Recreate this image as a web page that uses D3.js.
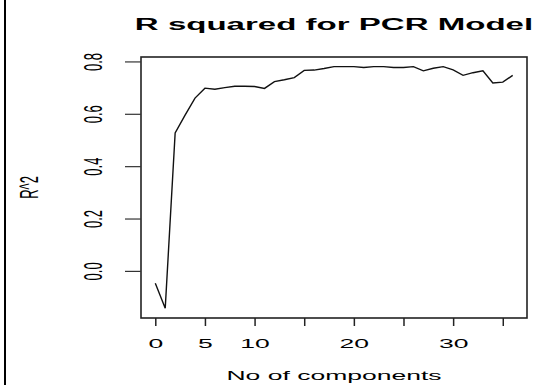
<!DOCTYPE html>
<html>
<head>
<meta charset="utf-8">
<script src="https://cdn.jsdelivr.net/npm/d3@7"></script>
<style>
  html, body { margin: 0; padding: 0; background: #fff; }
  svg { display: block; }
  text { font-family: "Liberation Sans", Arial, sans-serif; fill: #000; }
</style>
</head>
<body>
<svg id="chart" width="535" height="385"></svg>
<script>
// ---- data ----
const components = [0,1,2,3,4,5,6,7,8,9,10,11,12,13,14,15,16,17,18,19,20,21,22,23,24,25,26,27,28,29,30,31,32,33,34,35,36];
const rSquared = [-0.047,-0.143,0.527,0.595,0.660,0.698,0.694,0.700,0.705,0.705,0.704,0.697,0.723,0.730,0.738,0.766,0.767,0.773,0.780,0.780,0.780,0.777,0.780,0.780,0.777,0.777,0.780,0.764,0.774,0.780,0.768,0.747,0.757,0.764,0.718,0.721,0.747];
const xTicks = [0,5,10,15,20,25,30,35];
const xTickLabels = ["0","5","10","","20","","30",""];
const yTicks = [0.0,0.2,0.4,0.6,0.8];
const yTickLabels = ["0.0","0.2","0.4","0.6","0.8"];
const title = "R squared for PCR Model";
const xTitle = "No of components";
const yTitle = "R^2";

// ---- layout ----
const SX = 2.04; // horizontal stretch of the original image
const box = {left: 141, right: 527, top: 57, bottom: 318};
const svg = d3.select("#chart");

function pad(ext) { const r = ext[1] - ext[0]; return [ext[0] - 0.04 * r, ext[1] + 0.04 * r]; }
const x = d3.scaleLinear().domain(pad(d3.extent(components))).range([box.left, box.right]);
const y = d3.scaleLinear().domain(pad(d3.extent(rSquared))).range([box.bottom, box.top]);

// left border line of image
svg.append("line").attr("x1", 5).attr("x2", 5).attr("y1", 0).attr("y2", 385)
  .attr("stroke", "#000").attr("stroke-width", 2);

// data line
const data = components.map((c, i) => ({c, v: rSquared[i]}));
svg.append("path").datum(data)
  .attr("fill", "none").attr("stroke", "#111").attr("stroke-width", 1.4)
  .attr("d", d3.line().x(d => x(d.c)).y(d => y(d.v)));

// box
svg.append("rect").attr("x", box.left).attr("y", box.top)
  .attr("width", box.right - box.left).attr("height", box.bottom - box.top)
  .attr("fill", "none").attr("stroke", "#222").attr("stroke-width", 1.6);

// x axis
const xAxis = svg.append("g").attr("transform", `translate(0,${box.bottom})`)
  .call(d3.axisBottom(x).tickValues(xTicks).tickSize(8).tickSizeOuter(0)
    .tickFormat((d, i) => xTickLabels[i]));
xAxis.select(".domain").remove();
xAxis.selectAll(".tick line").attr("stroke", "#222").attr("stroke-width", 1.5);
xAxis.selectAll(".tick text").attr("y", 30).attr("dy", 0)
  .attr("transform", `scale(${SX},1)`).style("font-size", "13px")
  .style("font-family", "Liberation Sans, Arial, sans-serif").attr("fill", "#000");

// y axis
const yAxis = svg.append("g").attr("transform", `translate(${box.left},0)`)
  .call(d3.axisLeft(y).tickValues(yTicks).tickSize(16).tickSizeOuter(0)
    .tickFormat((d, i) => yTickLabels[i]));
yAxis.select(".domain").remove();
yAxis.selectAll(".tick line").attr("stroke", "#333").attr("stroke-width", 1.2);
yAxis.selectAll(".tick text").attr("x", 0).attr("y", 0).attr("dy", 0)
  .attr("text-anchor", "middle")
  .attr("transform", `translate(-39,0) scale(${SX},1) rotate(-90)`)
  .style("font-size", "13px")
  .style("font-family", "Liberation Sans, Arial, sans-serif").attr("fill", "#000");

// titles
svg.append("text").attr("text-anchor", "middle")
  .attr("transform", `translate(${(box.left + box.right) / 2},30) scale(${SX},1)`)
  .style("font-size", "16.2px").style("font-weight", "bold").text(title);

svg.append("text").attr("text-anchor", "middle")
  .attr("transform", `translate(${(box.left + box.right) / 2},380) scale(${SX},1)`)
  .style("font-size", "13px").text(xTitle);

svg.append("text").attr("text-anchor", "middle")
  .attr("transform", `translate(37.5,${(box.top + box.bottom) / 2}) scale(${SX},1) rotate(-90)`)
  .style("font-size", "13px").text(yTitle);
</script>
</body>
</html>
